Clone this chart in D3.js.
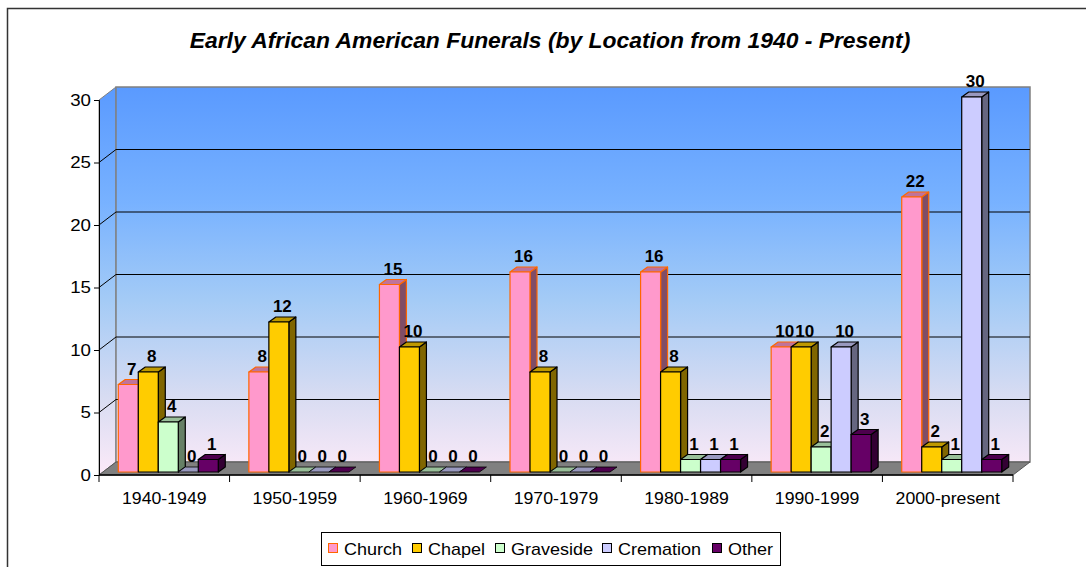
<!DOCTYPE html>
<html><head><meta charset="utf-8">
<script src="https://cdn.jsdelivr.net/npm/d3@7"></script>
<style>
html,body{margin:0;padding:0;background:#fff;}
svg{display:block;font-family:Arial,"Liberation Sans",sans-serif;}
</style></head>
<body>
<svg id="chart" width="1086" height="567"></svg>
<script>
const title = "Early African American Funerals (by Location from 1940 - Present)";
const categories = ["1940-1949","1950-1959","1960-1969","1970-1979","1980-1989","1990-1999","2000-present"];
const seriesNames = ["Church","Chapel","Graveside","Cremation","Other"];
const church    = [7, 8, 15, 16, 16, 10, 22];
const chapel    = [8, 12, 10, 8, 8, 10, 2];
const graveside = [4, 0, 0, 0, 1, 2, 1];
const cremation = [0, 0, 0, 0, 1, 10, 30];
const other     = [1, 0, 0, 0, 1, 3, 1];
const yTicks = [0, 5, 10, 15, 20, 25, 30];

const seriesValues = [church, chapel, graveside, cremation, other];
const fills  = ["#FF99CC","#FFCC00","#CCFFCC","#CCCCFF","#660066"];
const tops   = ["#C0739A","#BF9900","#99BF99","#9999BF","#4D004D"];
const sides  = ["#804D66","#806600","#668066","#666680","#330033"];
const strokes= ["#FF6600","#000","#000","#000","#000"];

// horizontal stretch helper (reference text is slightly wide)
function stretch(sel, k){
  sel.each(function(){
    const w = this.getComputedTextLength();
    d3.select(this).attr("textLength", w*k).attr("lengthAdjust","spacingAndGlyphs");
  });
}

const svg = d3.select("#chart");
const defs = svg.append("defs");
const grad = defs.append("linearGradient").attr("id","wall")
  .attr("gradientUnits","userSpaceOnUse").attr("x1",0).attr("x2",0).attr("y1",87).attr("y2",475);
[[0,"#5A9AFF"],[0.3,"#78B2FF"],[0.55,"#A4CBF6"],[0.8,"#D8DCF2"],[1,"#FCEAF8"]].forEach(s=>
  grad.append("stop").attr("offset",s[0]).attr("stop-color",s[1]));

// outer border
svg.append("rect").attr("x",7.5).attr("y",8.5).attr("width",1100).attr("height",600)
  .attr("fill","none").attr("stroke","#333").attr("stroke-width",1.5);

// title
svg.append("text").attr("x",550).attr("y",48).attr("text-anchor","middle")
  .attr("font-size",22).attr("font-weight","bold").attr("font-style","italic").text(title)
  .call(stretch, 1.04);

const X0 = 99, X1 = 1013;
const DX = 17, DY = -13;        // wall depth
const BDX = 7, BDY = -5;        // bar depth
const FX = 4, FY = -3;          // bar front-plane offset
const y = d3.scaleLinear().domain([0,30]).range([475,100]);
const x = d3.scaleBand().domain(categories).range([X0,X1]).padding(0);
const xs = d3.scaleBand().domain(seriesNames).range([0,x.bandwidth()]).paddingInner(0).paddingOuter(0.765);

// side wall
svg.append("path").attr("fill","url(#wall)").attr("stroke","#808080")
  .attr("d",`M${X0},${y(0)}L${X0},${y(30)}L${X0+DX},${y(30)+DY}L${X0+DX},${y(0)+DY}Z`);
// back wall
svg.append("rect").attr("x",X0+DX).attr("y",y(30)+DY).attr("width",X1-X0).attr("height",y(0)-y(30))
  .attr("fill","url(#wall)").attr("stroke","#808080").attr("stroke-width",1.5);

// gridlines
const grid = svg.append("g");
yTicks.filter(t=>t>0 && t<30).forEach(t=>{
  grid.append("path").attr("fill","none").attr("stroke","#000").attr("stroke-width",1)
    .attr("d",`M${X0},${y(t)}L${X0+DX},${y(t)+DY}L${X1+DX},${y(t)+DY}`);
});

// floor
svg.append("path").attr("fill","#808080").attr("stroke","#555").attr("stroke-width",1)
  .attr("d",`M${X0},${y(0)}L${X1},${y(0)}L${X1+DX},${y(0)+DY}L${X0+DX},${y(0)+DY}Z`);

// y axis
const yAxis = d3.axisLeft(y).tickValues(yTicks).tickSize(5).tickPadding(3);
const ya = svg.append("g").attr("transform",`translate(${X0},0)`).call(yAxis)
  .attr("font-size",null).attr("font-family",null);
ya.select(".domain").attr("stroke","#000");
ya.selectAll("line").attr("stroke","#000");
ya.selectAll("text").style("font-size","17px").style("font-family","Arial,'Liberation Sans',sans-serif")
  .attr("fill","#000").call(stretch, 1.1);

// x axis
const xa = svg.append("g").attr("transform",`translate(0,${y(0)})`);
xa.append("line").attr("x1",X0).attr("x2",X1).attr("stroke","#000").attr("stroke-width",1.5);
d3.range(categories.length+1).forEach(i=>{
  const xx = X0 + i*x.bandwidth();
  xa.append("line").attr("x1",xx).attr("x2",xx).attr("y1",0).attr("y2",7).attr("stroke","#000");
});
categories.forEach(c=>{
  xa.append("text").attr("x",x(c)+x.bandwidth()/2).attr("y",29).attr("text-anchor","middle")
    .style("font-size","17px").text(c).call(stretch, 1.04);
});

// bars
const bars = svg.append("g");
const labels = svg.append("g");
categories.forEach((c,ci)=>{
  seriesNames.forEach((s,si)=>{
    const v = seriesValues[si][ci];
    const x0 = x(c) + xs(s) + FX, w = xs.bandwidth();
    const yb = y(0) + FY, yt = y(v) + FY;
    const g = bars.append("g").attr("stroke",strokes[si]).attr("stroke-width",1.2).attr("stroke-linejoin","round");
    if (v > 0) {
      g.append("path").attr("fill",sides[si])
        .attr("d",`M${x0+w},${yb}L${x0+w},${yt}L${x0+w+BDX},${yt+BDY}L${x0+w+BDX},${yb+BDY}Z`);
      g.append("path").attr("fill",tops[si])
        .attr("d",`M${x0},${yt}L${x0+BDX},${yt+BDY}L${x0+w+BDX},${yt+BDY}L${x0+w},${yt}Z`);
      g.append("rect").attr("x",x0).attr("y",yt).attr("width",w).attr("height",yb-yt).attr("fill",fills[si]);
    } else {
      g.append("path").attr("fill",tops[si]).attr("stroke-width",0.8)
        .attr("d",`M${x0},${yt}L${x0+BDX},${yt+BDY}L${x0+w+BDX},${yt+BDY}L${x0+w},${yt}Z`);
    }
    labels.append("text").attr("x",x0+w/2+BDX/2).attr("y",yt+BDY-5).attr("text-anchor","middle")
      .style("font-size","16.5px").attr("font-weight","bold").text(v).call(stretch, 1.03);
  });
});

// legend
const lg = svg.append("g");
lg.append("rect").attr("x",321.5).attr("y",532.5).attr("width",459).attr("height",33)
  .attr("fill","#fff").attr("stroke","#000");
const legX = [328, 412, 495, 602, 712];
seriesNames.forEach((s,i)=>{
  lg.append("rect").attr("x",legX[i]+0.5).attr("y",543.5).attr("width",9).attr("height",9)
    .attr("fill",fills[i]).attr("stroke",strokes[i]);
  lg.append("text").attr("x",legX[i]+16).attr("y",554.5).style("font-size","17px").text(s).call(stretch, 1.06);
});
</script>
</body></html>
